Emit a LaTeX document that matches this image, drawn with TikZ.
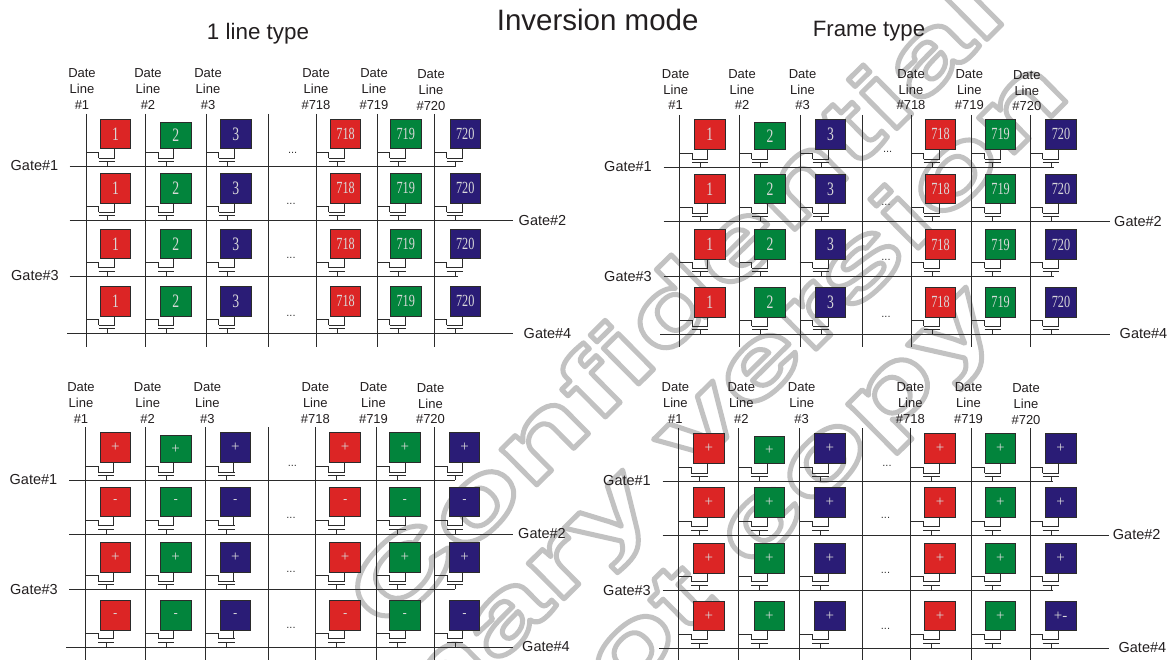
\documentclass[tikz,border=0pt]{standalone}
\usepackage{fontspec}
\setmainfont{Liberation Sans}
\newfontfamily\numfont[FakeStretch=0.72]{Liberation Serif}
\newfontfamily\plusfont{Liberation Serif}
\newfontfamily\signfont{Liberation Sans}
\newfontfamily\wmfont[FakeStretch=1.6]{Liberation Sans Bold}
\definecolor{ink}{HTML}{231F20}
\definecolor{wire}{HTML}{2B2B2B}
\definecolor{cred}{HTML}{DC2525}
\definecolor{cgreen}{HTML}{02843C}
\definecolor{cblue}{HTML}{2A1C76}
\tikzset{
  wireline/.style={draw=wire,line width=0.75pt},
  pixel/.style={draw=wire,line width=0.9pt,inner sep=0pt,outer sep=0pt,minimum width=30.6pt,text=white!85!black},
  datelab/.style={text=ink,font=\fontsize{13}{15.8}\selectfont,align=center,inner sep=0pt},
  gatelab/.style={text=ink,font=\fontsize{14.5}{16}\selectfont,inner sep=0pt},
  dotlab/.style={text=black!80,font=\fontsize{11}{11}\selectfont,inner sep=0pt},
  titlelab/.style={text=ink,inner sep=0pt},
  marktext/.style={inner sep=0pt,rotate=44.7,font=\wmfont\fontsize{95}{95}\selectfont}
}
\newcommand\wmtext[1]{\special{pdf:code q 1 Tr 1 j 5 w 0.76 0.76 0.76 RG}#1\special{pdf:code Q}}
\newcommand\celltext[3]{%
  \ifcase#1\relax\or
    {\ifnum\cc>3 \numfont\fontsize{17}{17}\selectfont\else\numfont\fontsize{19}{19}\selectfont\fi #3}\or
    {\ifodd\r \plusfont\fontsize{15}{15}\selectfont +\else \signfont\fontsize{13}{13}\selectfont -\fi}\or
    {\plusfont\fontsize{15}{15}\selectfont\ifnum\r=4 \ifnum\cc=6 +-\else +\fi\else +\fi}\fi}
% #1 prefix, #2 data xs, #3 top, #4 bottom, #5 columns, #6 rows, #7 mode
\newcommand\panel[7]{%
  \foreach \xx [count=\i] in {#2}{
    \coordinate (#1d\i a) at (\xx,#3);
    \coordinate (#1d\i b) at (\xx,#4);
    \draw[wireline] (#1d\i a) -- (#1d\i b);
  }
  \foreach \r/\gy/\ry/\gxa/\gxb/\dotx/\doty in {#6}{
    \coordinate (#1g\r a) at (\gxa,\gy);
    \coordinate (#1g\r b) at (\gxb,\gy);
    \draw[wireline] (#1g\r a) -- (#1g\r b);
    \node[dotlab] (#1dots\r) at (\dotx,\doty) {...};
    \foreach \cc/\dx/\bx/\fillc/\lab in {#5}{
      \pgfmathsetmacro\bt{ifthenelse(and(\r==1,\cc==2),\ry+3.5,\ry)}
      \pgfmathsetmacro\bh{\ry+29.7-\bt}
      \pgfmathsetmacro\bcx{\bx+15.3}
      \pgfmathsetmacro\bcy{\bt+\bh/2}
      \node[pixel,fill=\fillc,minimum height=\bh pt] (#1p\r\cc) at (\bcx,\bcy) {\celltext{#7}{\r}{\lab}};
      \coordinate (#1tap\r\cc) at (\dx,\gy-14);
      \coordinate (#1sa\r\cc) at (\dx+12.7,\gy-14);
      \coordinate (#1sb\r\cc) at (\dx+12.7,\gy-8.4);
      \coordinate (#1pe\r\cc) at (\dx+29,\gy-8.4);
      \coordinate (#1dr\r\cc) at (\dx+28.3,\gy-8.4);
      \coordinate (#1ga\r\cc) at (\dx+12.7,\gy-5);
      \coordinate (#1gb\r\cc) at (\dx+29,\gy-5);
      \coordinate (#1st\r\cc) at (\dx+21,\gy-5);
      \coordinate (#1sf\r\cc) at (\dx+21,\gy);
      \draw[wireline] (#1tap\r\cc) -- (#1sa\r\cc) -- (#1sb\r\cc);
      \draw[wireline] (#1sb\r\cc) -- (#1pe\r\cc);
      \draw[wireline] (#1ga\r\cc) -- (#1gb\r\cc);
      \draw[wireline] (#1st\r\cc) -- (#1sf\r\cc);
      \draw[wireline] (#1dr\r\cc) -- (#1dr\r\cc |- #1p\r\cc.south);
    }
  }
}
\newcommand\datelabels[2]{%
  \foreach \lx/\ly/\lt [count=\i] in {#2}{
    \node[datelab,anchor=base] (#1date\i) at (\lx,\ly+32) {Date\\Line\\\#\lt};
  }
}
\begin{document}
\begin{tikzpicture}[x=1pt,y=-1pt]
\useasboundingbox (0,0) rectangle (1168,660);
\fill[white] (0,0) rectangle (1168,660);
% watermark
\begin{scope}
\clip (0,0) rectangle (1168,660);
\node[marktext,anchor=base west] (wm1) at (385,635) {\wmtext{Confidential}};
\node[marktext,anchor=base east] (wm2) at (1073,95) {\wmtext{Preliminary version}};
\node[marktext,anchor=base east] (wm3) at (1002,322) {\wmtext{Do not copy}};
\end{scope}
% titles
\node[titlelab,font=\fontsize{29.5}{30}\selectfont] (title) at (597.7,20) {Inversion mode};
\node[titlelab,font=\fontsize{22.4}{24}\selectfont] (t1) at (258,34) {1 line type};
\node[titlelab,font=\fontsize{22.2}{24}\selectfont] (t2) at (869,31) {Frame type};
% top left
\panel{a}{86,145.4,206,268,316,377,434}{114}{346.7}
 {1/86/100.3/cred/1,2/145.4/160.4/cgreen/2,3/206/220.4/cblue/3,4/316/330.3/cred/718,5/377/390.4/cgreen/719,6/434/450/cblue/720}
 {1/166.7/119/69.7/455/292.7/152.7,2/220.7/173.3/69.7/513/291/204,3/276/229/69.7/458/291/258,4/333.3/286.3/67/513/291/315.7}{1}
\datelabels{a}{82/77.5/1,148/77.5/2,208/77.5/3,316/77.5/718,374/77.5/719,431/78.5/720}
\node[gatelab] (ag1) at (34.5,165.5) {Gate\#1};
\node[gatelab] (ag2) at (542.5,220.5) {Gate\#2};
\node[gatelab] (ag3) at (35,275.5) {Gate\#3};
\node[gatelab] (ag4) at (547.5,333.5) {Gate\#4};
% top right
\panel{b}{679.4,739.1,799.9,862.6,911,971.8,1030}{115}{346.7}
 {1/679.4/694.4/cred/1,2/739.1/754.8/cgreen/2,3/799.9/815.2/cblue/3,4/911/925.2/cred/718,5/971.8/985.3/cgreen/719,6/1030/1045.7/cblue/720}
 {1/167.7/119.3/663.7/1054/887.7/152,2/221.3/174/663.7/1110/886/205,3/276.7/229.7/663.7/1054/886/260,4/334.3/287.3/660/1110/886/316.7}{1}
\datelabels{b}{675.7/78/1,742/78/2,802.5/78/3,911/78/718,969.3/78/719,1026.8/79/720}
\node[gatelab] (bg1) at (628,166.5) {Gate\#1};
\node[gatelab] (bg2) at (1138,221.5) {Gate\#2};
\node[gatelab] (bg3) at (628,276.5) {Gate\#3};
\node[gatelab] (bg4) at (1143.5,334) {Gate\#4};
% bottom left
\panel{c}{85.3,145.4,205.5,267.9,315.7,376.6,434.4}{427.3}{660}
 {1/85.3/100/cred/1,2/145.4/160.4/cgreen/2,3/205.5/220/cblue/3,4/315.7/329.9/cred/718,5/376.6/389.6/cgreen/719,6/434.4/449.3/cblue/720}
 {1/480.3/432.3/69/455/292.4/465.7,2/534/487/69/513/291/518.3,3/589.3/542.3/69/455/291/572.3,4/647/600.3/66/513/291/628.3}{2}
\datelabels{c}{81/391.5/1,147.7/391.5/2,207.4/391.5/3,315.3/391.5/718,373.5/391.5/719,430.5/392/720}
\node[gatelab] (cg1) at (33.5,479.5) {Gate\#1};
\node[gatelab] (cg2) at (542,534) {Gate\#2};
\node[gatelab] (cg3) at (34,589.5) {Gate\#3};
\node[gatelab] (cg4) at (546,647) {Gate\#4};
% bottom right
\panel{d}{678.7,738.7,799.6,862.2,910.6,971.8,1030}{428.3}{660}
 {1/678.7/693.6/cred/1,2/738.7/754/cgreen/2,3/799.6/814.5/cblue/3,4/910.6/924.8/cred/718,5/971.8/985/cgreen/719,6/1030/1045.4/cblue/720}
 {1/481.3/433.3/662.6/1053.4/887/466,2/535/487.3/662.6/1108.7/885.5/518,3/590/543.3/662.6/1053.4/885.5/573.3,4/648/601/659.4/1108.7/885.5/629.3}{3}
\datelabels{d}{675.4/391.5/1,741.3/391.5/2,801.7/391.5/3,910.3/391.5/718,968.5/391.5/719,1026/392.5/720}
\node[gatelab] (dg1) at (627,480.5) {Gate\#1};
\node[gatelab] (dg2) at (1136.7,535) {Gate\#2};
\node[gatelab] (dg3) at (627,590.5) {Gate\#3};
\node[gatelab] (dg4) at (1142.4,648) {Gate\#4};
\end{tikzpicture}
\end{document}
